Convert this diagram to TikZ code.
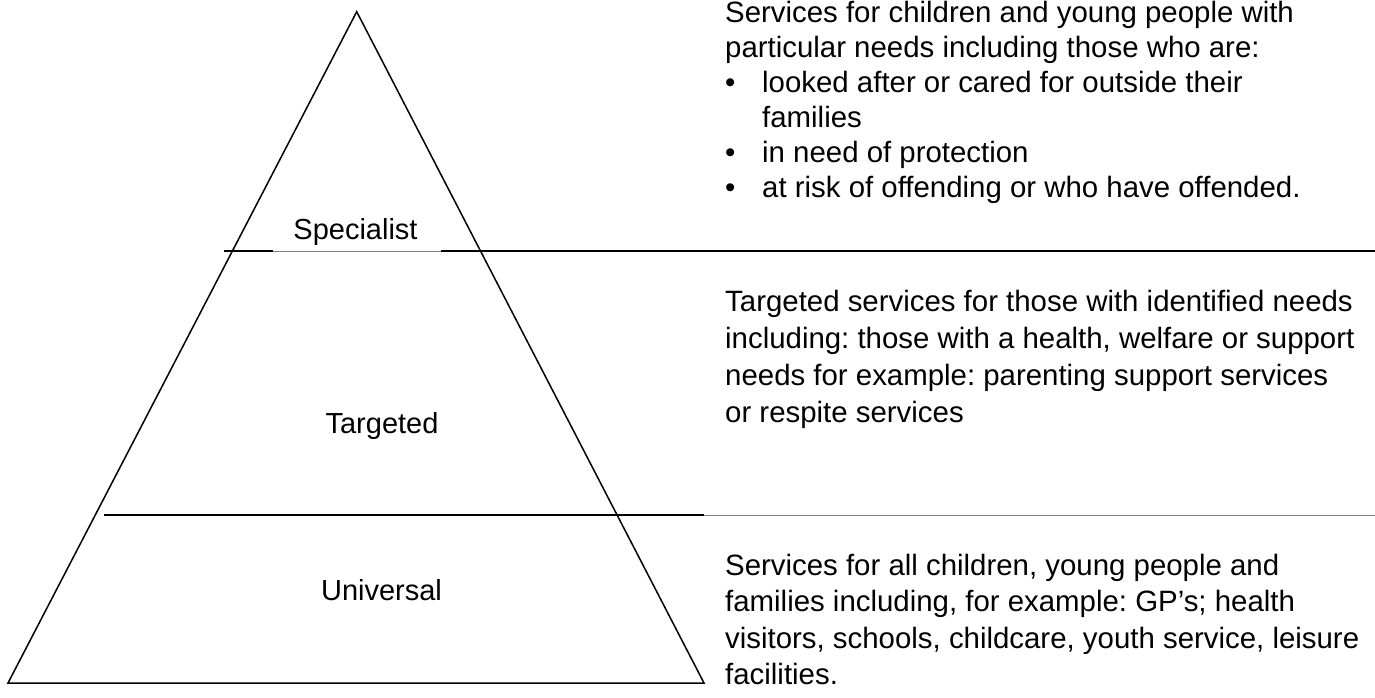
\documentclass[tikz,border=0pt]{standalone}
\usepackage{fontspec}
\setmainfont{Liberation Sans}
\usetikzlibrary{positioning}
\frenchspacing

\begin{document}
\begin{tikzpicture}[x=1pt, y=-1pt,
        level/.style={font=\fontsize{29}{35}\selectfont, inner sep=0pt, anchor=base},
        desc/.style={font=\fontsize{29.4}{#1}\selectfont, inner sep=0pt, align=left, anchor=base west},
        rule/.style={line width=1.6pt},
        faint/.style={gray, line width=0.8pt}]
        \useasboundingbox (0, 0) rectangle (1375, 697);

        % pyramid
        \coordinate (apex) at (356.7, 11.7);
        \coordinate (bl) at (8, 683);
        \coordinate (br) at (704, 683);
        \draw[line width=1.5pt, line join=miter] (apex) -- (bl) -- (br) -- cycle;

        % dividing lines
        \coordinate (s1) at (224, 251);
        \coordinate (s2) at (273, 251);
        \coordinate (s3) at (441, 251);
        \coordinate (s4) at (1375, 251);
        \coordinate (t1) at (104, 515);
        \coordinate (t2) at (704, 515);
        \coordinate (t3) at (1375, 515);
        \draw[rule] (s1) to (s2)
            (s3) to (s4)
            (t1) to (t2);
        \draw[faint] (s2) to (s3)
            (t2) to (t3);

        \node[level] (spec) at (355.5, 239) {Specialist};
        \node[level] (targ) at (382, 433) {Targeted};
        \node[level] (univ) at (381.5, 600) {Universal};

        % descriptions, placed by the baseline of their last line
        \node[desc=35] (specText) at (725, 197) {Services for children and young people with\\
            particular needs including those who are:\\
            \makebox[37pt][l]{\textbullet}looked after or cared for outside their\\
            \hspace*{37pt}families\\
            \makebox[37pt][l]{\textbullet}in need of protection\\
            \makebox[37pt][l]{\textbullet}at risk of offending or who have offended.};
        \node[desc=37] (targText) at (725, 422.7) {Targeted services for those with identified needs\\
            including: those with a health, welfare or support\\
            needs for example: parenting support services\\
            or respite services};
        \node[desc=36.5] (univText) at (725, 684.5) {Services for all children, young people and\\
            families including, for example: GP’s; health\\
            visitors, schools, childcare, youth service, leisure\\
            facilities.};
    \end{tikzpicture}
\end{document}
